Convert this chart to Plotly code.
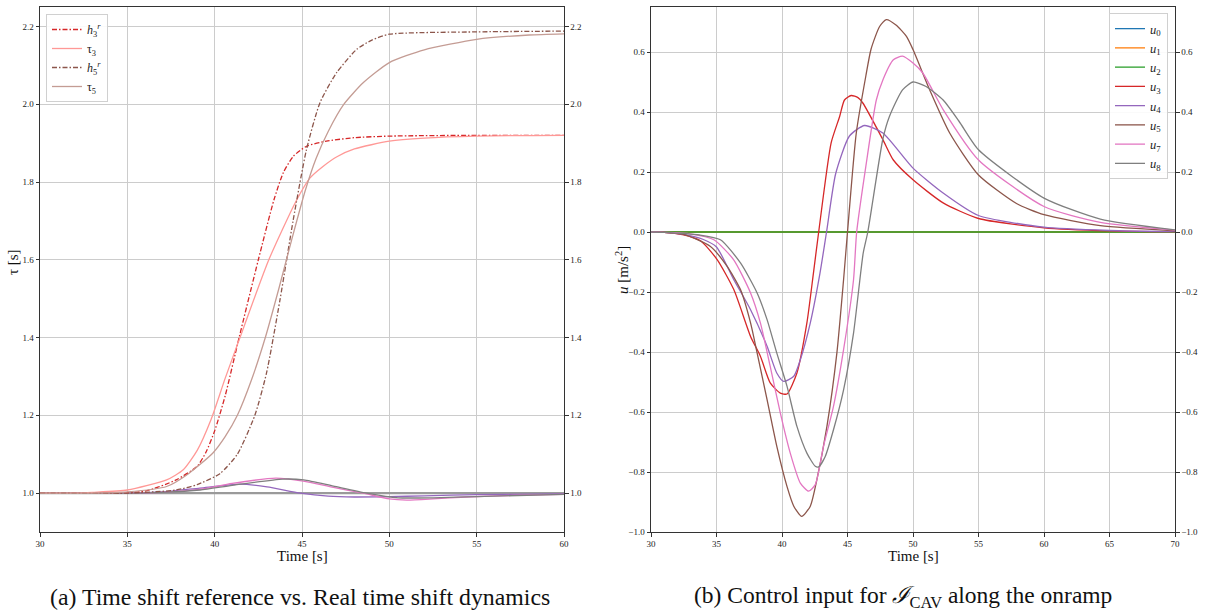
import plotly.graph_objects as go

# ---------------- Left panel data (time shift) ----------------
t_h3 = [30, 34, 36, 37.8, 39, 39.5, 40, 40.6, 41.4, 42.5, 43.4, 43.93, 44.5, 45.26, 46.4, 48, 50, 55, 60]
h3 = [1.0, 1.0, 1.005, 1.034, 1.069, 1.105, 1.16, 1.25, 1.4, 1.6, 1.755, 1.824, 1.866, 1.892, 1.905,
      1.914, 1.918, 1.92, 1.92]

t_tau3 = [30, 32, 33, 35, 37.25, 38.2, 39.0, 39.8, 40.6, 41.45, 43.1, 44.65, 45.45, 46.2, 47, 48, 50,
          52, 55, 60]
tau3 = [1.0, 1.0, 1.002, 1.008, 1.034, 1.06, 1.11, 1.19, 1.295, 1.4, 1.6, 1.75, 1.81, 1.84, 1.865,
        1.885, 1.905, 1.913, 1.918, 1.92]

t_h5 = [30, 35, 37.8, 39, 40.3, 41.3, 42.3, 42.97, 43.74, 44.5, 45.26, 46.03, 46.98, 48.13, 49, 50, 55, 60]
h5 = [1.0, 1.0, 1.008, 1.022, 1.05, 1.1, 1.2, 1.309, 1.497, 1.703, 1.884, 2.004, 2.081, 2.141, 2.165,
      2.18, 2.186, 2.188]

t_tau5 = [30, 33, 35, 37.25, 38.5, 39.9, 40.6, 41.3, 42.1, 42.9, 43.7, 44.4, 45.2, 45.8, 46.5, 47.4,
          48.5, 50, 52, 55, 58, 60]
tau5 = [1.0, 1.0, 1.003, 1.017, 1.05, 1.103, 1.145, 1.2, 1.29, 1.4, 1.53, 1.65, 1.78, 1.86, 1.93, 2.0,
        2.055, 2.107, 2.14, 2.167, 2.178, 2.181]

t_tau4 = [30, 35, 37, 39.16, 41.45, 43, 44.9, 46.5, 48, 50, 52, 55, 60]
tau4 = [1.0, 1.0, 1.003, 1.013, 1.023, 1.016, 1.0, 0.992, 0.99, 0.991, 0.993, 0.996, 0.998]

t_tau7 = [30, 35, 37, 39.16, 41, 43.5, 45.07, 46.8, 48.5, 50, 51, 52.5, 54.4, 57, 60]
tau7 = [1.0, 1.0, 1.002, 1.01, 1.025, 1.0386, 1.031, 1.0145, 1.0, 0.985, 0.982, 0.985, 0.99, 0.994, 0.997]

t_tau8 = [30, 35, 37, 39.16, 41, 43.9, 45.1, 46.8, 48.7, 50.5, 52.5, 55, 60]
tau8 = [1.0, 1.0, 1.002, 1.008, 1.02, 1.036, 1.034, 1.018, 1.0, 0.988, 0.988, 0.991, 0.997]

t_flat = [30, 60]
tau_flat = [1.0, 1.0]

left_xticks = [30, 35, 40, 45, 50, 55, 60]
left_yticks = [1.0, 1.2, 1.4, 1.6, 1.8, 2.0, 2.2]

# ---------------- Right panel data (control input) ----------------
t_zero = [30, 70]
u_zero = [0.0, 0.0]

t_u3 = [30, 31, 32.4, 33.8, 35.05, 36.32, 37.6, 38.35, 39.1, 39.87, 40.38, 41.14, 41.9, 42.4, 42.8,
        43.75, 44.4, 44.77, 45.28, 45.8, 46.17, 47.7, 48.5, 50, 52.3, 55, 60, 65, 70]
u3 = [0, -0.001, -0.009, -0.03, -0.092, -0.192, -0.348, -0.414, -0.503, -0.537, -0.54, -0.47, -0.303,
      -0.137, 0.0, 0.297, 0.385, 0.44, 0.455, 0.448, 0.43, 0.308, 0.24, 0.174, 0.097, 0.045, 0.014,
      0.004, 0.001]

t_u4 = [30, 31, 32.5, 34, 35, 36.32, 37.6, 38.86, 39.6, 40.13, 40.9, 41.4, 42.16, 42.9, 43.4, 44.1,
        45.15, 46.3, 47.7, 50, 52.3, 55, 60, 65, 70]
u4 = [0, -0.001, -0.008, -0.025, -0.05, -0.159, -0.259, -0.381, -0.47, -0.498, -0.481, -0.426, -0.303,
      -0.137, 0.0, 0.195, 0.32, 0.355, 0.33, 0.213, 0.13, 0.055, 0.016, 0.005, 0.001]

t_u5 = [30, 31, 32.5, 34.54, 35.8, 36.83, 37.6, 38.1, 38.86, 39.6, 40.38, 40.9, 41.5, 42.16, 42.66,
        43.43, 44.19, 44.7, 45.0, 45.67, 46.4, 46.8, 47.45, 47.96, 48.7, 49.5, 50, 51.27, 52.8, 55,
        57.9, 60, 64.3, 70]
u5 = [0, -0.001, -0.008, -0.048, -0.114, -0.192, -0.303, -0.403, -0.559, -0.714, -0.848, -0.914,
      -0.948, -0.914, -0.826, -0.648, -0.403, -0.159, 0.0, 0.33, 0.52, 0.61, 0.685, 0.708, 0.69,
      0.652, 0.608, 0.474, 0.33, 0.19, 0.095, 0.058, 0.021, 0.004]

t_u7 = [30, 31, 33, 34.8, 36.3, 37.6, 38.35, 39.1, 39.87, 40.63, 41.4, 42.03, 42.54, 43.17, 43.93,
        44.7, 45.46, 45.7, 46.4, 47.2, 47.7, 48.5, 49.2, 50, 50.75, 52.3, 55, 60, 64.3, 70]
u7 = [0, -0.001, -0.006, -0.026, -0.092, -0.203, -0.303, -0.448, -0.603, -0.737, -0.837, -0.864,
      -0.842, -0.714, -0.581, -0.392, -0.159, 0.0, 0.219, 0.44, 0.507, 0.574, 0.586, 0.563, 0.53,
      0.408, 0.24, 0.085, 0.032, 0.006]

t_u8 = [30, 31, 33.7, 35.3, 36.83, 38.1, 38.86, 39.6, 40.38, 41.14, 41.9, 42.54, 42.8, 43.3, 43.93,
        44.7, 45.46, 46.2, 46.55, 47.7, 48.2, 49.2, 50, 51, 52.3, 53.5, 55, 60, 64.3, 70]
u8 = [0, -0.001, -0.01, -0.026, -0.103, -0.203, -0.292, -0.403, -0.514, -0.648, -0.737, -0.781,
      -0.783, -0.748, -0.659, -0.526, -0.337, -0.07, 0.0, 0.31, 0.385, 0.474, 0.50, 0.485, 0.44,
      0.37, 0.274, 0.113, 0.043, 0.007]

right_xticks = [30, 35, 40, 45, 50, 55, 60, 65, 70]
right_yticks = [-1.0, -0.8, -0.6, -0.4, -0.2, 0.0, 0.2, 0.4, 0.6]

# ---------------- Style ----------------
FONT = "Liberation Serif, DejaVu Serif, serif"
DASHDOT = "5px,2px,1.5px,2px"
W = 1209
H = 615

fig = go.Figure()

def add(x, y, color, name=None, dash=None, width=1.3, xa="x", ya="y", legend="legend", show=True, smooth=True):
    fig.add_trace(go.Scatter(
        x=x, y=y, mode="lines", name=name,
        line=dict(color=color, width=width, dash=dash,
                  shape="spline" if smooth else "linear", smoothing=0.6),
        showlegend=show, legend=legend, xaxis=xa, yaxis=ya, hoverinfo="skip"))

# Left panel
add(t_flat, tau_flat, "#9a9a9a", width=2.2, show=False, smooth=False)
add(t_tau4, tau4, "#9467bd", show=False)
add(t_tau7, tau7, "#e377c2", show=False)
add(t_tau8, tau8, "#7f7f7f", show=False)
add(t_h3, h3, "#d62728", name="<i>h</i><sub>3</sub><sup><i>r</i></sup>", dash=DASHDOT)
add(t_tau3, tau3, "#ff9896", name="τ<sub>3</sub>")
add(t_h5, h5, "#8c564b", name="<i>h</i><sub>5</sub><sup><i>r</i></sup>", dash=DASHDOT)
add(t_tau5, tau5, "#c49c94", name="τ<sub>5</sub>")
# hidden trace so that the right-side tick labels are drawn
fig.add_trace(go.Scatter(x=[30], y=[1.0], mode="markers", marker=dict(opacity=0),
                         showlegend=False, xaxis="x", yaxis="y3", hoverinfo="skip"))

# Right panel
add(t_zero, u_zero, "#1f77b4", name="<i>u</i><sub>0</sub>", xa="x2", ya="y2", legend="legend2", smooth=False)
add(t_zero, u_zero, "#ff7f0e", name="<i>u</i><sub>1</sub>", xa="x2", ya="y2", legend="legend2", smooth=False)
add(t_zero, u_zero, "#2ca02c", name="<i>u</i><sub>2</sub>", xa="x2", ya="y2", legend="legend2", smooth=False)
add(t_u3, u3, "#d62728", name="<i>u</i><sub>3</sub>", xa="x2", ya="y2", legend="legend2")
add(t_u4, u4, "#9467bd", name="<i>u</i><sub>4</sub>", xa="x2", ya="y2", legend="legend2")
add(t_u5, u5, "#8c564b", name="<i>u</i><sub>5</sub>", xa="x2", ya="y2", legend="legend2")
add(t_u7, u7, "#e377c2", name="<i>u</i><sub>7</sub>", xa="x2", ya="y2", legend="legend2")
add(t_u8, u8, "#7f7f7f", name="<i>u</i><sub>8</sub>", xa="x2", ya="y2", legend="legend2")
fig.add_trace(go.Scatter(x=[30], y=[0.0], mode="markers", marker=dict(opacity=0),
                         showlegend=False, xaxis="x2", yaxis="y4", hoverinfo="skip"))

ydom = [1 - 532 / H, 1 - 7 / H]
axfont = dict(family=FONT, size=9, color="#222")
common = dict(showline=True, linecolor="#333", linewidth=1, ticks="outside", ticklen=3.5,
              tickcolor="#333", tickfont=axfont, zeroline=False, automargin=False)
grid = dict(showgrid=True, gridcolor="#cccccc", gridwidth=0.8)
right = dict(side="right", showgrid=False, ticks="outside", ticklen=3.5, tickcolor="#333",
             tickfont=axfont, showline=False, zeroline=False, automargin=False)

fig.update_layout(
    width=W, height=H,
    margin=dict(l=0, r=0, t=0, b=0, autoexpand=False),
    paper_bgcolor="white", plot_bgcolor="white",
    font=dict(family=FONT, color="#222"),
    xaxis=dict(domain=[40 / W, 564 / W], range=[30, 60], tickvals=left_xticks, anchor="y",
               mirror=True, **common, **grid),
    yaxis=dict(domain=ydom, range=[0.9, 2.25], tickvals=left_yticks, tickformat=".1f",
               anchor="x", mirror=True, **common, **grid),
    yaxis3=dict(range=[0.9, 2.25], tickvals=left_yticks, tickformat=".1f", overlaying="y",
                anchor="x", **right),
    xaxis2=dict(domain=[651 / W, 1175 / W], range=[30, 70], tickvals=right_xticks, anchor="y2",
                mirror=True, **common, **grid),
    yaxis2=dict(domain=ydom, range=[-1.0, 0.75], tickvals=right_yticks, tickformat=".1f",
                anchor="x2", mirror=True, **common, **grid),
    yaxis4=dict(range=[-1.0, 0.75], tickvals=right_yticks, tickformat=".1f", overlaying="y2",
                anchor="x2", **right),
    legend=dict(x=46 / W, y=1 - 14 / H, xanchor="left", yanchor="top",
                bgcolor="rgba(255,255,255,0.9)", bordercolor="#d0d0d0", borderwidth=1,
                font=dict(family=FONT, size=12, color="#222"), tracegroupgap=0, itemwidth=30),
    legend2=dict(x=1168 / W, y=1 - 13 / H, xanchor="right", yanchor="top",
                 bgcolor="rgba(255,255,255,0.9)", bordercolor="#d0d0d0", borderwidth=1,
                 font=dict(family=FONT, size=12.5, color="#222"), tracegroupgap=0, itemwidth=30),
)

ann = [
    dict(text="Time [s]", x=302 / W, y=1 - 556 / H, font=dict(size=15)),
    dict(text="Time [s]", x=913 / W, y=1 - 556 / H, font=dict(size=15)),
    dict(text="τ [s]", x=13 / W, y=1 - 262 / H, textangle=-90, font=dict(size=15)),
    dict(text="<i>u</i> [m/s<sup>2</sup>]", x=622 / W, y=1 - 270 / H, textangle=-90, font=dict(size=15)),
    dict(text="(a) Time shift reference vs. Real time shift dynamics", x=300 / W, y=1 - 597 / H,
         font=dict(size=23.8)),
    dict(text="(b) Control input for <i>ℐ</i><sub>CAV</sub> along the onramp", x=903 / W, y=1 - 597 / H,
         font=dict(size=23.5)),
]
for a in ann:
    a.update(xref="paper", yref="paper", showarrow=False, xanchor="center", yanchor="middle")
    a["font"].update(family=FONT, color="#111")
    fig.add_annotation(**a)

fig.write_html("out.html", config={"displayModeBar": False},
               post_script="document.body.style.margin='0';document.body.style.overflow='hidden';")
